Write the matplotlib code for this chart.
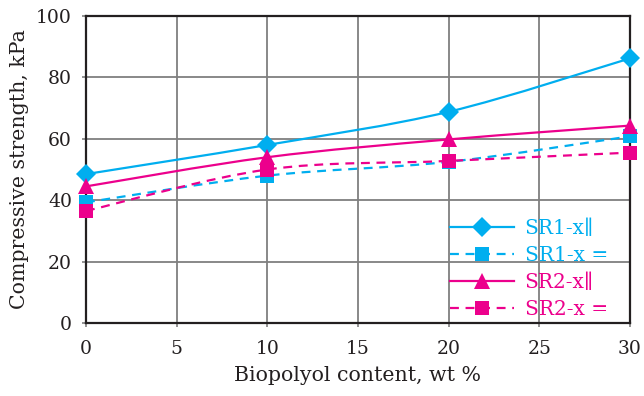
import matplotlib
matplotlib.use("Agg")
import matplotlib.pyplot as plt
import numpy as np
from matplotlib.path import Path
from matplotlib.patches import PathPatch
from matplotlib.lines import Line2D

plt.rcParams['font.family'] = ['DejaVu Serif']

# Biopolyol content (wt %) and compressive strength (kPa)
content = [0, 10, 20, 30]
sr1_par = [48.5, 58.0, 68.8, 86.2]
sr1_perp = [39.3, 48.0, 52.5, 60.8]
sr2_par = [44.5, 54.0, 59.8, 64.3]
sr2_perp = [36.5, 50.0, 52.8, 55.5]
labels = ["SR1-x\u2225", "SR1-x =", "SR2-x\u2225", "SR2-x ="]

x_ticks = [0, 5, 10, 15, 20, 25, 30]
y_ticks = [0, 20, 40, 60, 80, 100]

CYAN = "#00AEEF"
MAGENTA = "#EC008C"
INK = "#231f20"
FS_TICK = 13.5
FS_LABEL = 14.8
FS_LEG = 14.5


def smooth_path(xs, ys):
    """Catmull-Rom curve through the points, expressed as cubic Bezier segments."""
    p = np.column_stack([xs, ys]).astype(float)
    ext = np.vstack([p[0], p, p[-1]])
    verts = [p[0]]
    codes = [Path.MOVETO]
    for i in range(len(p) - 1):
        p0, p1, p2, p3 = ext[i], ext[i + 1], ext[i + 2], ext[i + 3]
        c1 = p1 + (p2 - p0) / 6.0
        c2 = p2 - (p3 - p1) / 6.0
        verts += [c1, c2, p2]
        codes += [Path.CURVE4] * 3
    return Path(verts, codes)


fig = plt.figure(figsize=(6.44, 3.96), dpi=100)
ax = fig.add_axes([0.1335, 0.1843, 0.8447, 0.7753])

series = [
    (sr1_par, CYAN, "-", "D", 10),
    (sr1_perp, CYAN, "--", "s", 10.5),
    (sr2_par, MAGENTA, "-", "^", 11.5),
    (sr2_perp, MAGENTA, "--", "s", 10.5),
]
DASH = (0, (4, 3))

handles = []
for k, (vals, col, ls, mk, ms) in enumerate(series):
    patch = PathPatch(smooth_path(content, vals), facecolor="none", edgecolor=col,
                      linewidth=1.6, zorder=3 + k * 0.1, clip_on=False)
    if ls == "--":
        patch.set_linestyle(DASH)
    ax.add_patch(patch)
    ax.plot(content, vals, linestyle="none", marker=mk, markersize=ms, color=col,
            markeredgewidth=0, zorder=4 + k * 0.1, clip_on=False)
    handles.append(Line2D([], [], color=col, linewidth=1.6,
                          linestyle=DASH if ls == "--" else "-",
                          marker=mk, markersize=ms, markeredgewidth=0))

ax.set_xlim(0, 30)
ax.set_ylim(0, 100)
ax.set_xticks(x_ticks)
ax.set_yticks(y_ticks)
ax.grid(True, color="#7f7f7f", linewidth=1.3)
ax.set_axisbelow(True)
for s in ax.spines.values():
    s.set_color(INK)
    s.set_linewidth(1.6)
ax.tick_params(axis="both", direction="out", length=3, width=1.2, color="#7f7f7f",
               labelsize=FS_TICK, labelcolor=INK)
ax.tick_params(axis="x", pad=9)
ax.tick_params(axis="y", pad=7)

ax.set_xlabel("Biopolyol content, wt %", fontsize=FS_LABEL, color=INK, labelpad=6)
ax.set_ylabel("Compressive strength, kPa", fontsize=FS_LABEL, color=INK, labelpad=5)

leg = ax.legend(handles, labels, loc="lower left", bbox_to_anchor=(0.662, 0.0),
                frameon=False, fontsize=FS_LEG, handlelength=3.15, handletextpad=0.55,
                labelspacing=0.4, borderaxespad=0.0, borderpad=0.2)
for t, (_, col, _, _, _) in zip(leg.get_texts(), series):
    t.set_color(col)

fig.savefig("out.png", dpi=100)
